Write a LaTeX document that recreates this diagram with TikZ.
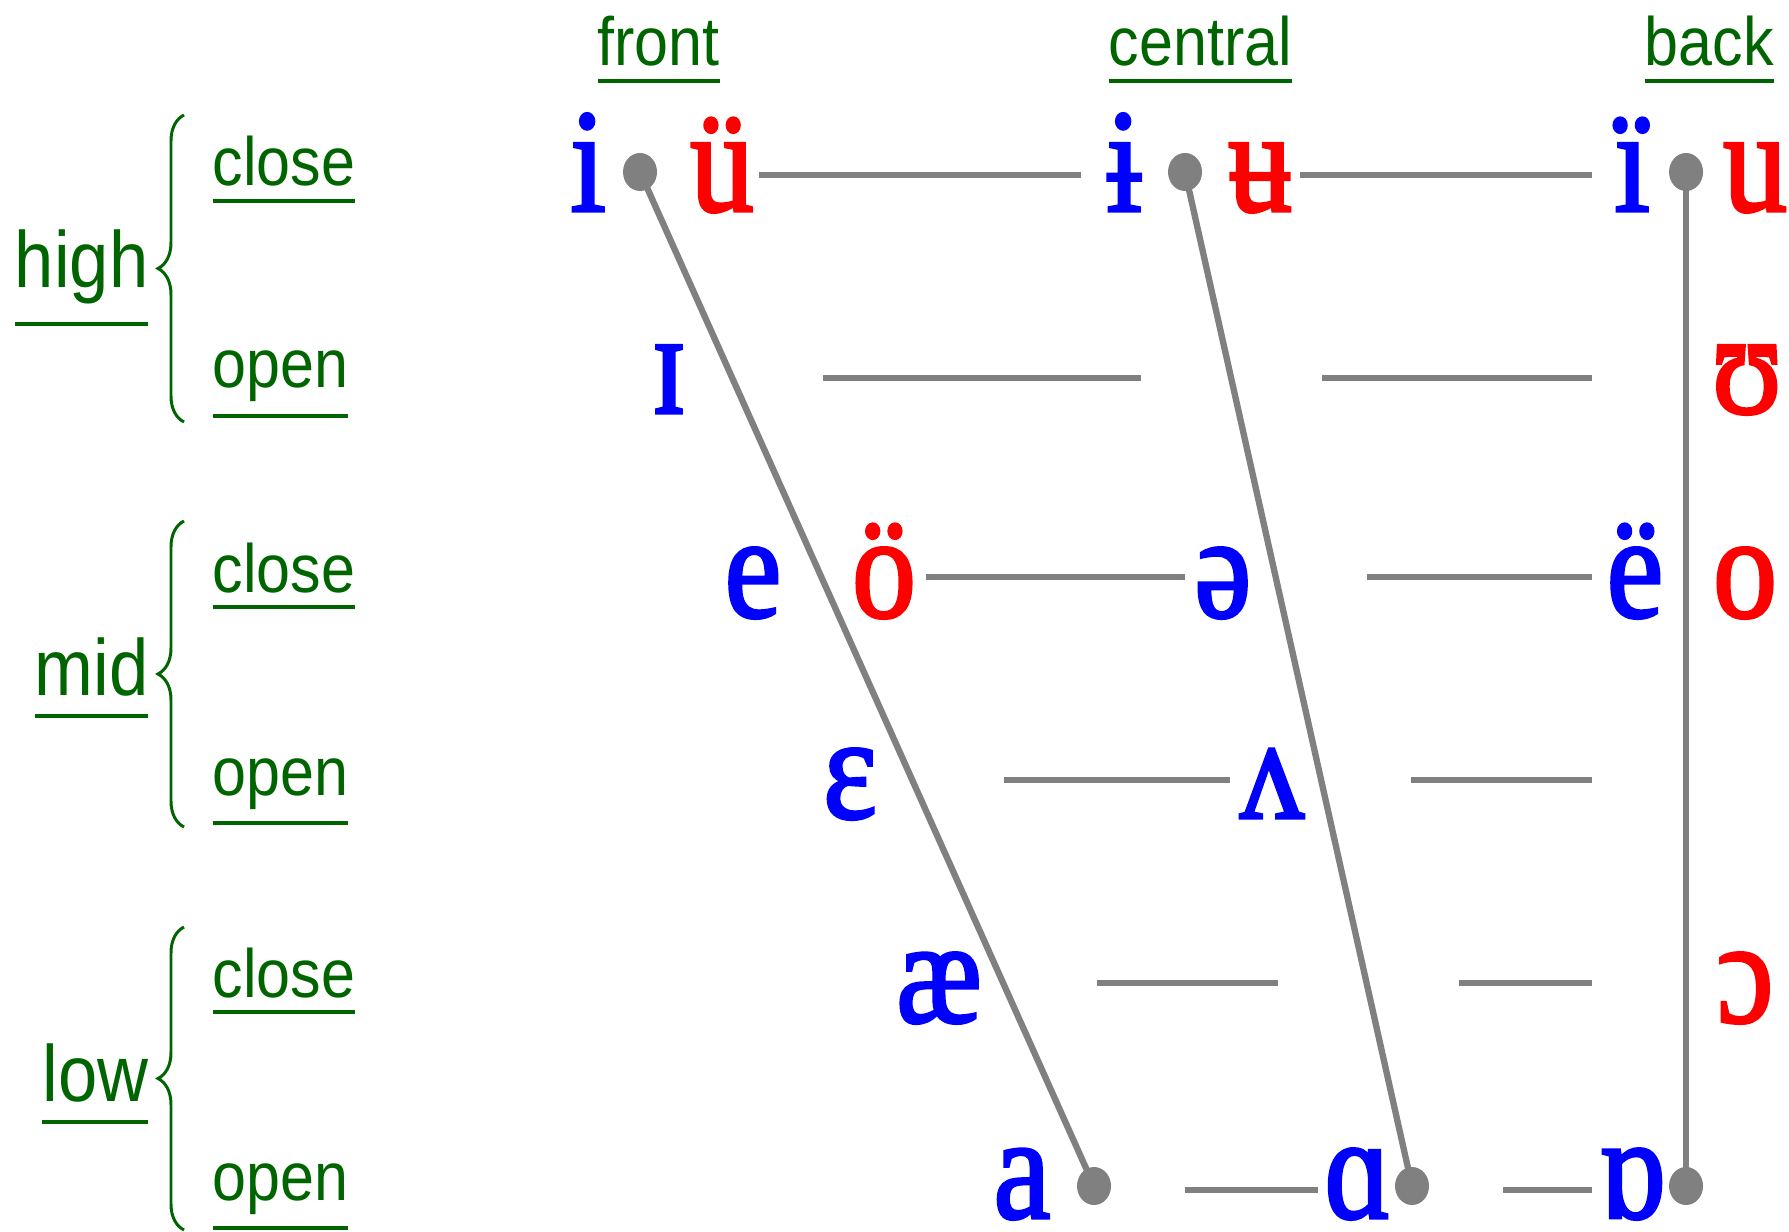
\documentclass[tikz,border=0pt]{standalone}
\usepackage{fontspec}
\usepackage{graphicx}
\usetikzlibrary{shapes.geometric,decorations.pathreplacing}
\setmainfont{Liberation Serif}
\newfontfamily\ipafont{Liberation Serif}[RawFeature={embolden=2.2}]
\newfontfamily\lblfont{Liberation Sans}
\definecolor{lblgreen}{RGB}{0,100,0}
\definecolor{ipablue}{RGB}{0,0,255}
\definecolor{ipared}{RGB}{255,0,0}
\definecolor{linegray}{RGB}{128,128,128}
\newcommand\ipatext[1]{\scalebox{1}[1.15]{#1}}
\newcommand\ulsmall[1]{\vtop{\hbox{\scalebox{1}[1.12]{#1}}\kern3.4pt\hrule height 1.14pt}}
\newcommand\ulbig[1]{\vtop{\hbox{\scalebox{1}[1.13]{#1}}\kern5.1pt\hrule height 1.14pt}}
\tikzset{
  ipa/.style={inner sep=0pt, anchor=base, font=\ipafont\fontsize{36.4}{40}\selectfont},
  blu/.style={ipa, text=ipablue},
  rd/.style={ipa, text=ipared},
  lab/.style={inner sep=0pt, anchor=base west, text=lblgreen, font=\lblfont\fontsize{17.35}{20}\selectfont},
  biglab/.style={inner sep=0pt, anchor=base east, text=lblgreen, font=\lblfont\fontsize{20.06}{24}\selectfont},
  dot/.style={ellipse, fill=linegray, minimum width=0.34cm, minimum height=0.38cm, inner sep=0pt},
  conn/.style={draw=linegray, line width=1.8pt},
  hline/.style={draw=linegray, line width=1.5pt},
  brc/.style={draw=lblgreen, line width=0.85pt, decorate, decoration={brace, amplitude=0.26cm}}
}
\begin{document}
\begin{tikzpicture}[x=0.01cm, y=-0.01cm]
\useasboundingbox (0,0) rectangle (1789,1231);
% column headers
\node[lab] (front) at (597,66) {\ulsmall{front}};
\node[lab] (central) at (1108,66) {\ulsmall{central}};
\node[lab] (back) at (1644,66) {\ulsmall{back}};
% row labels
\node[biglab] (high) at (149,288) {\ulbig{high}};
\node[biglab] (mid) at (149,695) {\ulbig{mid}};
\node[biglab] (low) at (149,1101) {\ulbig{low}};
\node[lab] (hclose) at (212,186) {\ulsmall{close}};
\node[lab] (hopen) at (212,388) {\ulsmall{open}};
\node[lab] (mclose) at (212,592) {\ulsmall{close}};
\node[lab] (mopen) at (212,795) {\ulsmall{open}};
\node[lab] (lclose) at (212,997) {\ulsmall{close}};
\node[lab] (lopen) at (212,1200) {\ulsmall{open}};
% braces
\draw[brc] (184,422) -- (184,115);
\draw[brc] (184,827) -- (184,521);
\draw[brc] (184,1230) -- (184,927);
% vowels row 1
\node[blu] (i) at (588,211) {\ipatext{i}};
\node[rd] (uu) at (722,211) {\ipatext{ü}};
\node[blu] (ibar) at (1124,211) {\ipatext{ɨ}};
\node[rd] (ubar) at (1260,211) {\ipatext{ʉ}};
\node[blu] (ii) at (1632,211) {\ipatext{ï}};
\node[rd] (u) at (1755,211) {\ipatext{u}};
% row 2
\node[blu] (ssi) at (669,413) {\ipatext{ɪ}};
\node[rd] (ups) at (1747,413) {\ipatext{ʊ}};
% row 3
\node[blu] (e) at (753,617) {\ipatext{e}};
\node[rd] (oo) at (884,617) {\ipatext{ö}};
\node[blu] (schwa) at (1223,617) {\ipatext{ə}};
\node[blu] (ee) at (1635,617) {\ipatext{ë}};
\node[rd] (o) at (1745,617) {\ipatext{o}};
% row 4
\node[blu] (eps) at (850,818) {\ipatext{ɛ}};
\node[blu] (wedge) at (1272,818) {\ipatext{ʌ}};
% row 5
\node[blu] (ae) at (939,1022) {\ipatext{æ}};
\node[rd] (oc) at (1745,1022) {\ipatext{ɔ}};
% row 6
\node[blu] (a) at (1022,1218) {\ipatext{a}};
\node[blu] (alpha) at (1358,1218) {\ipatext{ɑ}};
\node[blu] (turna) at (1632,1218) {\ipatext{ɒ}};
% dots
\node[dot] (d1) at (640,172) {};
\node[dot] (d2) at (1185,172) {};
\node[dot] (d3) at (1686,172) {};
\node[dot] (d4) at (1094,1186) {};
\node[dot] (d5) at (1412,1186) {};
\node[dot] (d6) at (1686,1186) {};
\draw[conn] (d1.center) -- (d4.center);
\draw[conn] (d2.center) -- (d5.center);
\draw[conn] (d3.center) -- (d6.center);
% horizontal line end points
\coordinate (r1a) at (759,175);  \coordinate (r1b) at (1081,175);
\coordinate (r1c) at (1300,175); \coordinate (r1d) at (1592,175);
\coordinate (r2a) at (823,378);  \coordinate (r2b) at (1141,378);
\coordinate (r2c) at (1322,378); \coordinate (r2d) at (1592,378);
\coordinate (r3a) at (926,577);  \coordinate (r3b) at (1185,577);
\coordinate (r3c) at (1367,577); \coordinate (r3d) at (1592,577);
\coordinate (r4a) at (1004,780); \coordinate (r4b) at (1230,780);
\coordinate (r4c) at (1411,780); \coordinate (r4d) at (1592,780);
\coordinate (r5a) at (1097,983); \coordinate (r5b) at (1278,983);
\coordinate (r5c) at (1459,983); \coordinate (r5d) at (1592,983);
\coordinate (r6a) at (1185,1190); \coordinate (r6b) at (1318,1190);
\coordinate (r6c) at (1503,1190); \coordinate (r6d) at (1592,1190);
\foreach \r in {1,...,6}{
  \draw[hline] (r\r a) -- (r\r b);
  \draw[hline] (r\r c) -- (r\r d);
}
\end{tikzpicture}
\end{document}
